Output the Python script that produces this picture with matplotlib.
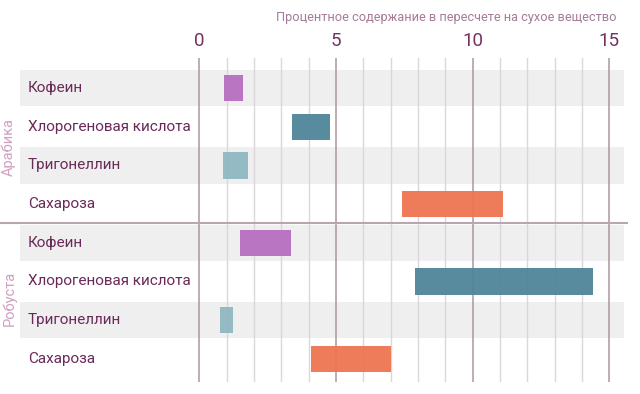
"""Coffee bean composition: arabica vs robusta ranges"""

import matplotlib
import matplotlib.pyplot as plt
import numpy as np

matplotlib.use("agg")
plt.rcParams["font.family"] = ["Roboto", "DejaVu Sans"]

groups = ["Арабика", "Робуста"]
compounds = ["Кофеин", "Хлорогеновая кислота", "Тригонеллин", "Сахароза"]
compound_colors = ["#b86fc0", "#4f8599", "#8fb7c2", "#ee7450"]

# (low, high) percentage of dry matter
arabica_low = [0.9, 3.4, 0.85, 7.4]
arabica_high = [1.6, 4.8, 1.8, 11.1]
robusta_low = [1.5, 7.9, 0.75, 4.1]
robusta_high = [3.35, 14.4, 1.25, 7.0]

major_ticks = [0, 5, 10, 15]
title = "Процентное содержание в пересчете на сухое вещество"

label_color = "#6a2a58"
W, H = 640, 394

fig = plt.figure(figsize=(W / 100, H / 100), dpi=100)
# axes spans from the left band edge to the right band edge, gridline top to bottom
ax = fig.add_axes([20 / W, 1 - 382 / H, (624 - 20) / W, (382 - 58) / H])
px_per_unit = 27.33
ax.set_xlim((20 - 199.3) / px_per_unit, (624 - 199.3) / px_per_unit)
ax.set_ylim((382 - 88) / 38.7, (58 - 88) / 38.7)
ax.axis("off")

lows = arabica_low + robusta_low
highs = arabica_high + robusta_high
labels = compounds * 2
colors = compound_colors * 2
rows = np.arange(len(labels))

# alternating grey bands
for r in rows[::2]:
    ax.axhspan(r - 0.47, r + 0.47, color="#efefef", lw=0, zorder=0)

# grid lines
x0, x1 = ax.get_xlim()
for v in range(0, 16):
    if v in major_ticks:
        ax.axvline(v, color="#a8989f", lw=1.1, zorder=1)
    else:
        ax.axvline(v, color="#dcd6da", lw=1.0, zorder=1)

# separator between groups
ax.axhline(3.5, xmin=-20 / 604, xmax=1.005, color="#b9a6b3", lw=1.5,
           clip_on=False, zorder=2)

ax.barh(rows, np.array(highs) - np.array(lows), left=lows, height=0.68,
        color=colors, alpha=0.95, zorder=3)

for r, lab in zip(rows, labels):
    ax.text(x0 + 8 / px_per_unit, r, lab, ha="left", va="center",
            fontsize=11, color=label_color, zorder=4)

for t in major_ticks:
    ax.text(t, (41 - 88) / 38.7, str(t), ha="center", va="center",
            fontsize=13.5, color="#74325f")

fig.text(617 / W, 1 - 17 / H, title, ha="right", va="center",
         fontsize=9.2, color="#a67a98")

fig.text(9 / W, 1 - 147 / H, groups[0], rotation=90, ha="center",
         va="center", fontsize=10.5, color="#d0a0c0")
fig.text(9 / W, 1 - 298 / H, groups[1], rotation=90, ha="center",
         va="center", fontsize=10.5, color="#d0a0c0")

fig.savefig("out.png", dpi=100)
